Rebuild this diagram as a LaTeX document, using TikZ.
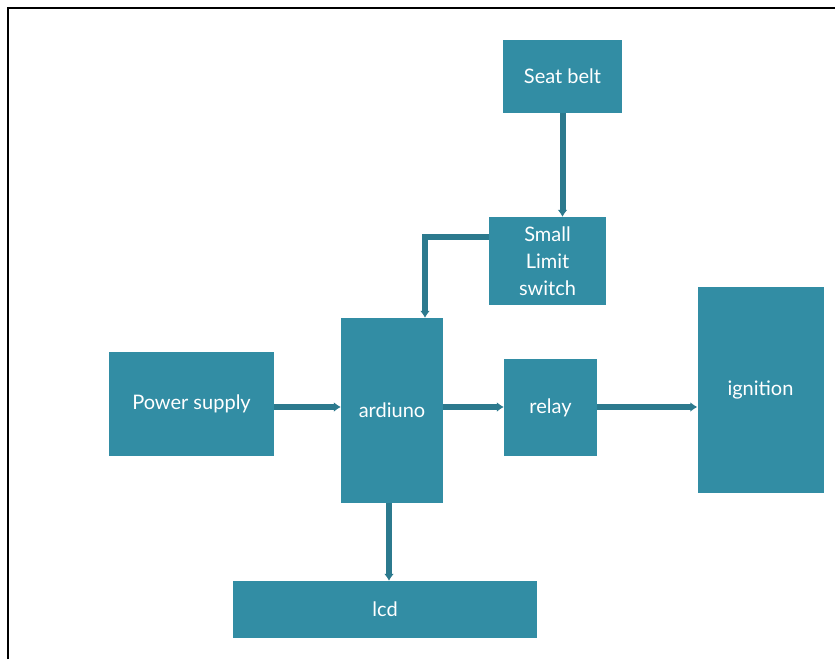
\documentclass[tikz,border=0pt]{standalone}
\usepackage{fontspec}
\setmainfont{Lato}
\usepackage{tikz}
\usetikzlibrary{arrows.meta}
\definecolor{blockteal}{RGB}{50,141,164}
\definecolor{wireteal}{RGB}{44,122,142}
\tikzset{>=latex}

\begin{document}
\begin{tikzpicture}[x=1pt, y=-1pt,
    blockbox/.style={fill=blockteal, draw=none, text=white, align=center,
      inner sep=0pt, font=\fontsize{20}{27}\selectfont},
    wire/.style={draw=wireteal, line width=6pt,
      -{Latex[length=7pt,width=10pt]}}]
      \useasboundingbox (0,0) rectangle (835,659);
      % frame
      \draw[line width=2pt] (8,659) -- (8,8) -- (835,8);
      % blocks
      \node[blockbox, minimum width=119pt, minimum height=73pt] (seatbelt) at (562.5,76.5) {Seat belt};
      \node[blockbox, minimum width=117pt, minimum height=88pt] (switch) at (547.5,261) {Small\\Limit\\switch};
      \node[blockbox, minimum width=165pt, minimum height=104pt] (power) at (191.5,404) {Power supply};
      \node[blockbox, minimum width=102pt, minimum height=185pt] (ardiuno) at (392,410.5) {ardiuno};
      \node[blockbox, minimum width=93pt, minimum height=97pt] (relay) at (550.5,407.5) {relay};
      \node[blockbox, minimum width=126pt, minimum height=206pt] (ignition) at (760.5,390) {ignition};
      \node[blockbox, minimum width=304pt, minimum height=57pt] (lcd) at (385,609.5) {lcd};
      % connectors
      \coordinate (busline) at (0,407);
      \draw[wire] (seatbelt.south) -- (seatbelt.south |- switch.north);
      \draw[wire] ([yshift=24pt]switch.west) -| ([xshift=33pt]ardiuno.north);
      \draw[wire] (power.east |- busline) -- (ardiuno.west |- busline);
      \draw[wire] (ardiuno.east |- busline) -- (relay.west |- busline);
      \draw[wire] (relay.east |- busline) -- (ignition.west |- busline);
      \draw[wire] ([xshift=-3pt]ardiuno.south) -- ([xshift=-3pt]ardiuno.south |- lcd.north);
    \end{tikzpicture}
\end{document}
